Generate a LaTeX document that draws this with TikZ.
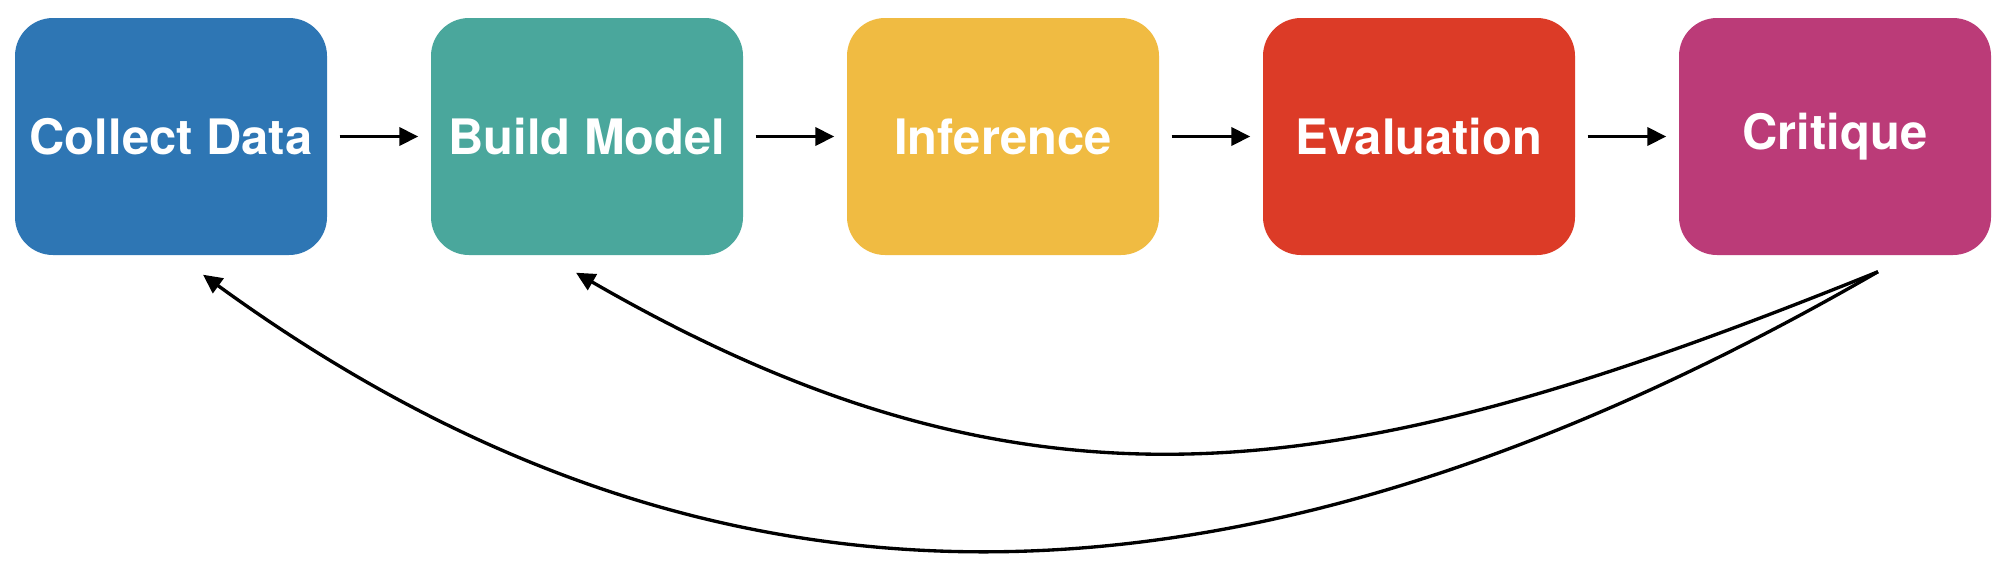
\documentclass[tikz,border=0pt]{standalone}
\usepackage{fontspec}
\setmainfont{TeX Gyre Heros}
\usetikzlibrary{arrows.meta}
\definecolor{collectblue}{RGB}{46,118,180}
\definecolor{buildteal}{RGB}{74,167,156}
\definecolor{inferyellow}{RGB}{240,187,66}
\definecolor{evalred}{RGB}{220,59,39}
\definecolor{critmagenta}{RGB}{187,59,120}

\begin{document}
\begin{tikzpicture}[stage/.style={rectangle,rounded corners=0.38cm,minimum width=3.12cm,minimum height=2.37cm,inner sep=0pt,text=white,font=\bfseries\fontsize{13.9}{16}\selectfont},
    flow/.style={-{Triangle[length=0.19cm,width=0.18cm]},line width=1.1pt},
    loopback/.style={-{Triangle[length=0.19cm,width=0.18cm]},line width=0.95pt}]
    \useasboundingbox (0,0) rectangle (20.06,-5.68);
    \foreach \name/\txt/\col [count=\i from 0] in {collect/Collect Data/collectblue,build/Build Model/buildteal,infer/Inference/inferyellow,eval/Evaluation/evalred,crit/Critique/critmagenta}
    {
      \node[stage,fill=\col] (\name) at (1.71+4.16*\i,-1.365) {\txt};
    }
    \foreach \a/\b in {collect/build,build/infer,infer/eval,eval/crit}
    {
      \draw[flow,shorten <=0.12cm,shorten >=0.12cm] (\a) -- (\b);
    }
    % feedback from the critique
    \coordinate (crit-out) at ([xshift=0.43cm,yshift=-0.16cm]crit.south);
    \coordinate (collect-in) at ([xshift=0.32cm,yshift=-0.19cm]collect.south);
    \coordinate (build-in) at ([xshift=-0.11cm,yshift=-0.17cm]build.south);
    \draw[loopback] (crit-out) .. controls +(202:5.6) and +(-30:5.4) .. (build-in);
    \draw[loopback] (crit-out) .. controls +(210:7.5) and +(-36:6.2) .. (collect-in);
  \end{tikzpicture}
\end{document}
